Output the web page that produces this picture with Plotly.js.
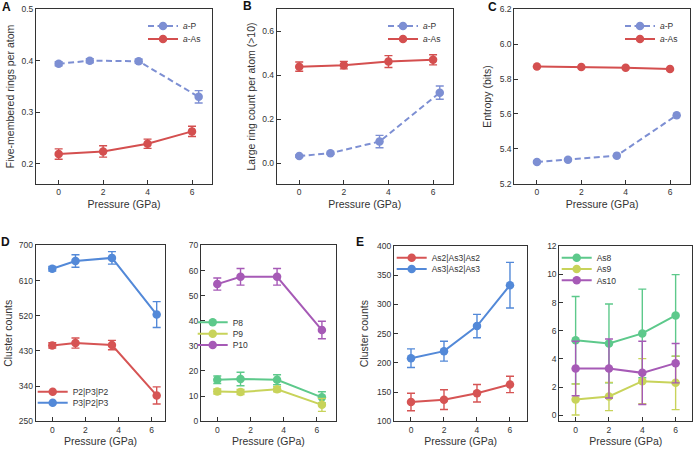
<!DOCTYPE html>
<html>
<head>
<meta charset="utf-8">
<script src="https://cdn.plot.ly/plotly-3.0.1.min.js"></script>
<style>
  html, body { margin: 0; padding: 0; background: #ffffff; }
  #chart { width: 693px; height: 449px; }
</style>
</head>
<body>
<div id="chart"></div>
<script>
// Pressure grids (GPa)
const pressAs = [0, 2, 4, 6];
const pressP = [0, 1.4, 3.6, 6.3];

// A: five-membered rings per atom
const ringsP = [0.394, 0.400, 0.399, 0.330];
const ringsPErr = [0.004, 0.004, 0.004, 0.012];
const ringsAs = [0.219, 0.224, 0.239, 0.263];
const ringsAsErr = [0.010, 0.011, 0.009, 0.010];

// B: large ring (>10) count per atom
const largeP = [0.032, 0.045, 0.098, 0.320];
const largePErr = [0.005, 0.005, 0.028, 0.030];
const largeAs = [0.438, 0.445, 0.461, 0.469];
const largeAsErr = [0.021, 0.017, 0.027, 0.023];

// C: entropy (bits)
const entropyP = [5.326, 5.339, 5.362, 5.593];
const entropyAs = [5.871, 5.868, 5.864, 5.857];

// D: phosphorus cluster counts
const p2p3p2 = [444, 450, 445, 316];
const p2p3p2Err = [7, 13, 12, 22];
const p3p2p3 = [640, 660, 668, 523];
const p3p2p3Err = [6, 16, 16, 33];
const p8 = [16.5, 16.8, 16.5, 9.5];
const p8Err = [1.5, 2.7, 2.0, 2.2];
const p9 = [11.8, 11.6, 12.7, 6.5];
const p9Err = [1.0, 1.0, 1.0, 2.6];
const p10 = [54.6, 57.5, 57.5, 36.3];
const p10Err = [2.4, 3.3, 3.3, 3.5];

// E: arsenic cluster counts
const as2as3as2 = [133, 137, 148, 163];
const as2as3as2Err = [15, 17, 15, 14];
const as3as2as3 = [208, 220, 263, 333];
const as3as2as3Err = [16, 17, 20, 39];
const as8 = [5.33, 5.10, 5.81, 7.09];
const as8Err = [3.1, 2.8, 3.15, 2.9];
const as9 = [1.12, 1.33, 2.42, 2.30];
const as9Err = [1.1, 1.0, 1.6, 1.9];
const as10 = [3.32, 3.32, 3.01, 3.70];
const as10Err = [1.94, 2.1, 2.25, 1.4];

const W = 693, H = 449;
const FONT = 'Liberation Sans, Arial, Helvetica, sans-serif';
const INK = '#333333';

const C_P = '#7d8fd3';
const C_AS = '#d44f4f';
const C_RED = '#d65454';
const C_BLUE = '#5389d8';
const C_GREEN = '#5dc98b';
const C_YELLOW = '#c8d35a';
const C_PURPLE = '#a65ab6';

// Subplot frames in pixels: [left, top, right, bottom]
const panels = [
  { box: [36, 9, 212, 184],        xr: [-1.02, 6.9],  yr: [0.161, 0.5002], tick0: 0.2, dtick: 0.1, fmt: '.1f', ytitle: 'Five-membered rings per atom', standoff: 4 },
  { box: [276.7, 9, 452.7, 184],   xr: [-1.01, 6.88], yr: [-0.095, 0.7],  tick0: 0,   dtick: 0.2, fmt: '.1f', ytitle: 'Large ring count per atom (>10)', standoff: 4 },
  { box: [514.3, 9, 690, 184],     xr: [-1.02, 6.9],  yr: [5.1998, 6.2002], tick0: 5.2, dtick: 0.2, fmt: '.1f', ytitle: 'Entropy (bits)', standoff: 6 },
  { box: [35.7, 245.3, 165.3, 421.3], xr: [-1.0, 6.82], yr: [249.8, 700.2], tick0: 250, dtick: 90, fmt: '', ytitle: 'Cluster counts', standoff: 4 },
  { box: [201, 245.3, 335.7, 421.3],  xr: [-0.98, 7.13], yr: [-0.05, 70.05], tick0: 0, dtick: 10, fmt: '', ytitle: '', standoff: 6 },
  { box: [394, 246, 527.3, 421.3],    xr: [-1.03, 7.05], yr: [99.9, 400.1], tick0: 100, dtick: 50, fmt: '', ytitle: 'Cluster counts', standoff: 6 },
  { box: [559.3, 246, 692.3, 421.3],  xr: [-0.98, 7.0],  yr: [-0.43, 12.02], tick0: 0, dtick: 2, fmt: '', ytitle: '', standoff: 6 }
];

const layout = {
  width: W, height: H,
  margin: { l: 0, r: 0, t: 0, b: 0 },
  paper_bgcolor: '#ffffff',
  plot_bgcolor: '#ffffff',
  font: { family: FONT, color: INK, size: 9 },
  showlegend: true,
  annotations: [],
};

panels.forEach((p, i) => {
  const n = i === 0 ? '' : String(i + 1);
  const [l, t, r, b] = p.box;
  const axCommon = {
    showline: true, mirror: true, linecolor: INK, linewidth: 1,
    ticks: 'inside', ticklen: 4, tickwidth: 1, tickcolor: INK,
    showgrid: false, zeroline: false,
    tickfont: { family: FONT, size: 8.5, color: INK },
    fixedrange: true
  };
  layout['xaxis' + n] = Object.assign({}, axCommon, {
    domain: [l / W, r / W], range: p.xr, anchor: 'y' + n,
    tickmode: 'array', tickvals: [0, 2, 4, 6],
    title: { text: 'Pressure (GPa)', font: { family: FONT, size: 10.5, color: INK }, standoff: 4 }
  });
  layout['yaxis' + n] = Object.assign({}, axCommon, {
    domain: [1 - b / H, 1 - t / H], range: p.yr, anchor: 'x' + n,
    tickmode: 'linear', tick0: p.tick0, dtick: p.dtick, tickformat: p.fmt,
    title: { text: p.ytitle, font: { family: FONT, size: 10.5, color: INK }, standoff: p.standoff }
  });
});

// Panel letters
[['A', 6, 7], ['B', 247, 6], ['C', 492, 7], ['D', 5, 242], ['E', 360, 242]].forEach(([txt, x, y]) => {
  layout.annotations.push({
    text: '<b>' + txt + '</b>', xref: 'paper', yref: 'paper',
    x: x / W, y: 1 - y / H, xanchor: 'center', yanchor: 'middle',
    showarrow: false, font: { family: FONT, size: 12, color: '#111111' }
  });
});

const traces = [];
let legendCount = 0;
function series(name, xs, ys, errs, color, axisIdx, legendPos, dash) {
  legendCount += 1;
  const lg = legendCount === 1 ? 'legend' : 'legend' + legendCount;
  const n = axisIdx === 0 ? '' : String(axisIdx + 1);
  const tr = {
    type: 'scatter', mode: 'lines+markers', name: name,
    x: xs, y: ys,
    xaxis: 'x' + n, yaxis: 'y' + n,
    line: { color: color, width: 2, dash: dash || 'solid' },
    marker: { color: color, size: 8.5 },
    legend: lg,
    hoverinfo: 'skip'
  };
  if (errs) {
    tr.error_y = { type: 'data', array: errs, visible: true, color: color, thickness: 1.4, width: 4 };
  }
  traces.push(tr);
  layout[lg] = {
    x: (legendPos[0] - 40) / W, y: 1 - legendPos[1] / H,
    xanchor: 'left', yanchor: 'middle',
    bgcolor: 'rgba(0,0,0,0)', borderwidth: 0,
    font: { family: FONT, size: 8.5, color: INK },
    itemwidth: 30, itemclick: false, itemdoubleclick: false
  };
}

// A
series('<i>a</i>-P', pressP, ringsP, ringsPErr, C_P, 0, [183, 26], '6px,3.5px');
series('<i>a</i>-As', pressAs, ringsAs, ringsAsErr, C_AS, 0, [183, 39]);
// B
series('<i>a</i>-P', pressP, largeP, largePErr, C_P, 1, [423, 26], '6px,3.5px');
series('<i>a</i>-As', pressAs, largeAs, largeAsErr, C_AS, 1, [423, 39]);
// C
series('<i>a</i>-P', pressP, entropyP, null, C_P, 2, [660, 26], '6px,3.5px');
series('<i>a</i>-As', pressAs, entropyAs, null, C_AS, 2, [660, 39]);
// D
series('P2|P3|P2', pressP, p2p3p2, p2p3p2Err, C_RED, 3, [72.7, 391.7]);
series('P3|P2|P3', pressP, p3p2p3, p3p2p3Err, C_BLUE, 3, [72.7, 402.7]);
series('P8', pressP, p8, p8Err, C_GREEN, 4, [232.7, 322.3]);
series('P9', pressP, p9, p9Err, C_YELLOW, 4, [232.7, 333.7]);
series('P10', pressP, p10, p10Err, C_PURPLE, 4, [232.7, 345]);
// E
series('As2|As3|As2', pressAs, as2as3as2, as2as3as2Err, C_RED, 5, [431.7, 257.7]);
series('As3|As2|As3', pressAs, as3as2as3, as3as2as3Err, C_BLUE, 5, [431.7, 269]);
series('As8', pressAs, as8, as8Err, C_GREEN, 6, [596.7, 257.7]);
series('As9', pressAs, as9, as9Err, C_YELLOW, 6, [596.7, 269]);
series('As10', pressAs, as10, as10Err, C_PURPLE, 6, [596.7, 280.3]);

Plotly.newPlot('chart', traces, layout, { displayModeBar: false, staticPlot: true });
</script>
</body>
</html>
